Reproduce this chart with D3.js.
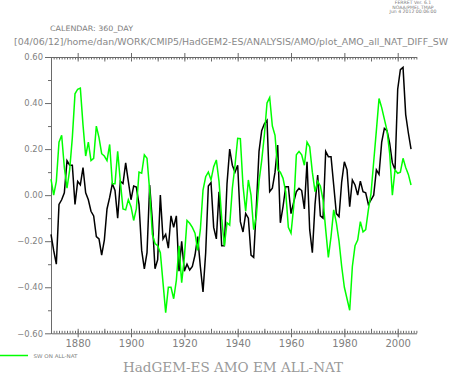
<!DOCTYPE html>
<html>
<head>
<meta charset="utf-8">
<script src="https://cdn.jsdelivr.net/npm/d3@7"></script>
<style>
  body { margin: 0; background: #fff; }
  svg { display: block; }
  text { fill: #808080; font-family: "DejaVu Sans", sans-serif; }
</style>
</head>
<body>
<div id="chart"></div>
<script>
//Datos: serie anual AMO, 1870-2005
const firstYear = 1870;

//Línea negra
const allNat = [
  -0.17, -0.24, -0.30, -0.04, -0.02, 0.01, 0.15, 0.13, 0.13, -0.04,
  0.06, 0.045, 0.12, 0.01, -0.02, -0.07, -0.09, -0.18, -0.19, -0.26,
  -0.195, -0.06, -0.01, 0.05, 0.02, -0.10, 0.06, 0.05, 0.14, 0.06,
  -0.02, 0.04, 0.035, -0.04, -0.24, -0.32, -0.25, 0.044, -0.11, -0.32,
  -0.28, 0.0, -0.19, -0.17, -0.23, -0.09, -0.14, -0.09, -0.33, -0.20,
  -0.33, -0.30, -0.325, -0.31, -0.26, -0.18, -0.31, -0.42, -0.25, 0.04,
  0.055, -0.14, -0.19, 0.015, -0.22, -0.22, 0.05, 0.20, 0.13, 0.10,
  0.13, -0.115, -0.16, -0.08, -0.10, -0.26, -0.27, -0.05, 0.19, 0.28,
  0.31, 0.325, 0.015, 0.03, 0.10, 0.218, -0.12, -0.05, 0.037, 0.037,
  -0.08, -0.03, 0.015, 0.03, 0.02, -0.06, 0.145, -0.15, -0.25, -0.04,
  0.087, -0.09, -0.10, 0.19, 0.167, 0.167, 0.044, -0.08, -0.093, 0.058,
  0.145, 0.11, -0.05, 0.066, 0.044, 0.0, 0.061, 0.015, 0.01, -0.04,
  -0.02, 0.0, 0.11, 0.09, 0.23, 0.29, 0.28, 0.225, 0.14, 0.11,
  0.46, 0.545, 0.555, 0.35, 0.27, 0.20
];

//Línea verde
const swOnAllNat = [
  0.07, 0.00, 0.06, 0.23, 0.26, 0.12, 0.03, 0.11, 0.25, 0.44,
  0.46, 0.465, 0.305, 0.17, 0.23, 0.15, 0.16, 0.30, 0.25, 0.18,
  0.17, 0.15, 0.22, 0.05, 0.05, 0.19, 0.06, -0.06, -0.064, -0.02,
  -0.05, -0.11, -0.06, 0.10, 0.095, 0.175, 0.16, 0.02, -0.17, -0.21,
  -0.22, -0.25, -0.38, -0.51, -0.40, -0.40, -0.45, -0.37, -0.22, -0.38,
  -0.27, -0.11, -0.122, -0.14, -0.165, -0.24, -0.15, 0.022, 0.08, 0.10,
  0.066, 0.124, 0.153, 0.06, -0.10, -0.22, -0.12, -0.13, 0.03, 0.13,
  0.247, 0.245, 0.04, -0.07, 0.066, 0.0, -0.15, -0.09, 0.06, 0.15,
  0.26, 0.40, 0.424, 0.30, 0.26, 0.11, 0.10, 0.073, 0.015, -0.14,
  -0.165, -0.05, 0.175, 0.19, 0.175, 0.13, 0.23, 0.21, 0.10, 0.015,
  0.06, 0.04, -0.02, -0.15, -0.27, -0.18, -0.064, -0.12, -0.20, -0.31,
  -0.40, -0.45, -0.50, -0.31, -0.22, -0.195, -0.115, -0.16, -0.15, -0.064,
  0.008, 0.145, 0.28, 0.42, 0.38, 0.33, 0.28, 0.18, 0.0, 0.11,
  0.095, 0.10, 0.16, 0.12, 0.09, 0.044
];

//Ejes
const yLabelTicks = [-0.6, -0.4, -0.2, 0, 0.2, 0.4, 0.6];
const yMinorTicks = [-0.5, -0.3, -0.1, 0.1, 0.3, 0.5];
const xLabelTicks = [1880, 1900, 1920, 1940, 1960, 1980, 2000];
const xDecadeTicks = [1870, 1890, 1910, 1930, 1950, 1970, 1990];

//Textos
const headerLines = ['FERRET Ver. 6.1', 'NOAA/PMEL TMAP', 'Jun  4 2012 00:06:00'];
const calendarText = 'CALENDAR: 360_DAY';
const pathText = '[04/06/12]/home/dan/WORK/CMIP5/HadGEM2-ES/ANALYSIS/AMO/plot_AMO_all_NAT_DIFF_SW';
const legendLabel = 'SW ON ALL-NAT';
const chartTitle = 'HadGEM-ES AMO EM ALL-NAT';

const COLOR_BLACK = '#000000',
  COLOR_GREEN = '#00ff00',
  COLOR_AXIS = '#6a6a6a',
  COLOR_TEXT = '#808080';

let width = 454, height = 374;
let plot = {left: 51, right: 416.5, top: 57, bottom: 333.3};

let svg = d3.select('#chart')
  .append('svg')
    .attr('width', width)
    .attr('height', height);

let x = d3.scaleLinear()
  .domain([1870, 2007.05])
  .range([plot.left, plot.right]);

let y = d3.scaleLinear()
  .domain([-0.6, 0.6])
  .range([plot.bottom, plot.top]);

let years = d3.range(Math.ceil(x.domain()[0]), Math.floor(x.domain()[1]) + 1);

//Cabecera
svg.append('g')
  .selectAll('text')
  .data(headerLines)
  .enter()
  .append('text')
    .attr('x', 413)
    .attr('y', function(d, i) { return 4 + i * 4.6; })
    .attr('text-anchor', 'middle')
    .style('font-size', '4.6px')
    .text(function(d) { return d; });

svg.append('text')
  .attr('x', 50)
  .attr('y', 31)
  .attr('textLength', 83)
  .attr('lengthAdjust', 'spacingAndGlyphs')
  .style('font-size', '7.4px')
  .text(calendarText);

svg.append('text')
  .attr('x', 14)
  .attr('y', 45.3)
  .attr('textLength', 434)
  .attr('lengthAdjust', 'spacingAndGlyphs')
  .style('font-size', '9.4px')
  .style('fill', '#888888')
  .text(pathText);

function styleAxis(g) {
  g.select('.domain').attr('stroke', COLOR_AXIS);
  g.selectAll('.tick line').attr('stroke', COLOR_AXIS);
  g.selectAll('.tick text').attr('fill', COLOR_TEXT).style('font-family', '"DejaVu Sans", sans-serif');
}

//Eje Y
svg.append('g')
  .attr('transform', 'translate(' + plot.left + ',0)')
  .call(d3.axisLeft(y).tickValues(yMinorTicks).tickSize(3).tickFormat('').tickSizeOuter(0))
  .call(styleAxis);

svg.append('g')
  .attr('transform', 'translate(' + plot.left + ',0)')
  .call(d3.axisLeft(y).tickValues(yLabelTicks).tickSize(6).tickPadding(2).tickSizeOuter(0)
    .tickFormat(function(d) { return d3.format('.2f')(d).replace('-', '\u2212'); }))
  .call(styleAxis)
  .call(function(g) { g.selectAll('.tick text').style('font-size', '8.4px'); });

//Eje X inferior
svg.append('g')
  .attr('transform', 'translate(0,' + plot.bottom + ')')
  .call(d3.axisTop(x).tickValues(years).tickSize(2.5).tickFormat('').tickSizeOuter(0))
  .call(styleAxis);

svg.append('g')
  .attr('transform', 'translate(0,' + plot.bottom + ')')
  .call(d3.axisTop(x).tickValues(xDecadeTicks.concat(xLabelTicks)).tickSize(4.5).tickFormat('').tickSizeOuter(0))
  .call(styleAxis)
  .call(function(g) { g.select('.domain').remove(); });

svg.append('g')
  .attr('transform', 'translate(0,' + plot.bottom + ')')
  .call(d3.axisBottom(x).tickValues(xLabelTicks).tickSize(4).tickPadding(3).tickFormat(d3.format('d')).tickSizeOuter(0))
  .call(styleAxis)
  .call(function(g) {
    g.select('.domain').remove();
    g.selectAll('.tick text').style('font-size', '10px');
  });

//Eje X superior
svg.append('g')
  .attr('transform', 'translate(0,' + plot.top + ')')
  .call(d3.axisBottom(x).tickValues(years).tickSize(2.5).tickFormat('').tickSizeOuter(0))
  .call(styleAxis);

svg.append('g')
  .attr('transform', 'translate(0,' + plot.top + ')')
  .call(d3.axisBottom(x).tickValues(xDecadeTicks.concat(xLabelTicks)).tickSize(4.5).tickFormat('').tickSizeOuter(0))
  .call(styleAxis)
  .call(function(g) { g.select('.domain').remove(); });

svg.append('g')
  .attr('transform', 'translate(0,' + plot.top + ')')
  .call(d3.axisTop(x).tickValues(xLabelTicks).tickSize(4).tickFormat('').tickSizeOuter(0))
  .call(styleAxis)
  .call(function(g) { g.select('.domain').remove(); });

//Líneas
let line = d3.line()
  .x(function(d, i) { return x(firstYear + i); })
  .y(function(d) { return y(d); });

svg.append('path')
  .datum(allNat)
  .attr('fill', 'none')
  .attr('stroke', COLOR_BLACK)
  .attr('stroke-width', 1.5)
  .attr('d', line);

svg.append('path')
  .datum(swOnAllNat)
  .attr('fill', 'none')
  .attr('stroke', COLOR_GREEN)
  .attr('stroke-width', 1.5)
  .attr('d', line);

//Leyenda
svg.append('line')
  .attr('x1', 0).attr('x2', 28)
  .attr('y1', 355.5).attr('y2', 355.5)
  .attr('stroke', COLOR_GREEN)
  .attr('stroke-width', 1.5);

svg.append('text')
  .attr('x', 33.5)
  .attr('y', 357.8)
  .attr('textLength', 44)
  .attr('lengthAdjust', 'spacingAndGlyphs')
  .style('font-size', '5px')
  .text(legendLabel);

//Título
svg.append('text')
  .attr('x', 123)
  .attr('y', 371.5)
  .attr('textLength', 220)
  .attr('lengthAdjust', 'spacingAndGlyphs')
  .style('font-family', '"DejaVu Serif", serif')
  .style('font-size', '12px')
  .style('fill', '#999999')
  .text(chartTitle);
</script>
</body>
</html>
